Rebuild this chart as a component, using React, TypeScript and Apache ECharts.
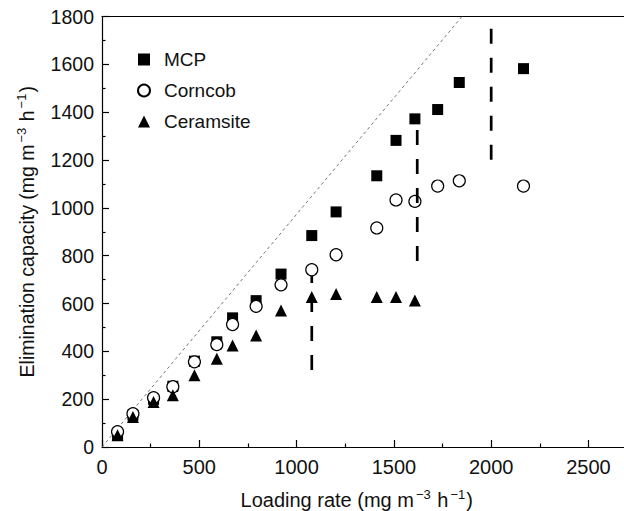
import React, { useEffect, useRef } from "react";
import * as echarts from "echarts";

const loading = [80, 159, 265, 364, 475, 590, 671, 792, 920, 1078, 1203, 1412, 1511, 1608, 1725, 1836, 2166];
const mcp = [52, 133, 199, 254, 359, 440, 540, 612, 723, 884, 983, 1134, 1282, 1372, 1411, 1524, 1582];
const corncob = [64, 139, 206, 252, 356, 428, 512, 588, 678, 741, 804, 916, 1033, 1027, 1091, 1113, 1091];
const ceramsiteLoading = [80, 159, 265, 364, 475, 590, 671, 792, 920, 1078, 1203, 1412, 1511, 1608];
const ceramsite = [49, 125, 188, 216, 300, 369, 424, 466, 571, 627, 640, 627, 627, 613];

const breakX = [1078, 1620, 2000];
const breakFrom = [322, 1325, 1749];
const breakTo = [715, 776, 1195];

const diagonalX = [0, 1850];
const diagonalY = [0, 1800];

const xTicks = [0, 500, 1000, 1500, 2000, 2500];

const FONT = "'Liberation Sans', Arial, Helvetica, sans-serif";

export default function App() {
  const ref = useRef<HTMLDivElement>(null);
  useEffect(() => {
    if (!ref.current) return;
    const chart = echarts.init(ref.current, null, { renderer: "svg" });
    const pair = (xs: number[], ys: number[]) => xs.map((x, i) => [x, ys[i]]);
    const richName = {
      sup: { fontSize: 13, verticalAlign: "top", lineHeight: 12, fontFamily: FONT, color: "#111", padding: [0, 1, 0, 2] },
    };
    const breakSeries = breakX.map((x, i) => ({
      type: "line",
      data: [
        [x, breakFrom[i]],
        [x, breakTo[i]],
      ],
      symbol: "none",
      silent: true,
      z: 5,
      lineStyle: { color: "#000", width: 2.7, type: [15, 14], cap: "butt" },
    }));
    const option: any = {
      animation: false,
      backgroundColor: "#fff",
      grid: { left: 102, top: 16.5, bottom: 64, right: -3.4, containLabel: false, outerBoundsMode: "none" },
      legend: {
        orient: "vertical",
        left: 132,
        top: 45,
        itemWidth: 12,
        itemHeight: 12,
        itemGap: 12,
        textStyle: { fontSize: 19, fontFamily: FONT, color: "#111", padding: [0, 0, 0, 9] },
        data: ["MCP", "Corncob", "Ceramsite"],
      },
      xAxis: [
        {
          type: "value",
          min: 0,
          max: 2700,
          interval: 500,
          position: "bottom",
          name: "Loading rate (mg m{sup|−3} h{sup|−1})",
          nameLocation: "middle",
          nameGap: 41,
          nameTextStyle: {
            fontSize: 20,
            fontFamily: FONT,
            color: "#111",
            lineHeight: 24,
            padding: [0, 16, 0, 0],
            rich: richName,
          },
          axisLine: { onZero: false, lineStyle: { color: "#000", width: 1.2 } },
          axisTick: { inside: true, length: 7, lineStyle: { color: "#000", width: 1.2 } },
          minorTick: { show: true, splitNumber: 2, length: 3.5, lineStyle: { color: "#000", width: 1.2 } },
          splitLine: { show: false },
          axisLabel: {
            fontSize: 20,
            fontFamily: FONT,
            color: "#111",
            margin: 10,
            customValues: xTicks,
            formatter: (v: number) => String(v),
          },
        },
        {
          type: "value",
          min: 0,
          max: 2700,
          position: "top",
          axisLine: { show: true, onZero: false, lineStyle: { color: "#000", width: 1.2 } },
          axisTick: { show: false },
          axisLabel: { show: false },
          splitLine: { show: false },
        },
      ],
      yAxis: [
        {
          type: "value",
          min: 0,
          max: 1800,
          interval: 200,
          name: "Elimination capacity (mg m{sup|−3} h{sup|−1})",
          nameLocation: "middle",
          nameRotate: 90,
          nameGap: 63,
          nameTextStyle: { fontSize: 19.5, fontFamily: FONT, color: "#111", lineHeight: 24, rich: richName },
          axisLine: { show: true, onZero: false, lineStyle: { color: "#000", width: 1.2 } },
          axisTick: { inside: true, length: 7, lineStyle: { color: "#000", width: 1.2 } },
          minorTick: { show: true, splitNumber: 2, length: 3.5, lineStyle: { color: "#000", width: 1.2 } },
          splitLine: { show: false },
          axisLabel: {
            fontSize: 19.5,
            fontFamily: FONT,
            color: "#111",
            margin: 8,
            formatter: (v: number) => String(v),
          },
        },
      ],
      series: [
        {
          type: "line",
          data: pair(diagonalX, diagonalY),
          symbol: "none",
          silent: true,
          z: 1,
          lineStyle: { color: "#666", width: 0.9, type: [3, 3] },
        },
        {
          name: "MCP",
          type: "scatter",
          symbol: "rect",
          symbolSize: 11,
          data: pair(loading, mcp),
          itemStyle: { color: "#000", opacity: 1 },
          z: 2,
        },
        {
          name: "Corncob",
          type: "scatter",
          symbol: "circle",
          symbolSize: 12,
          data: pair(loading, corncob),
          itemStyle: { color: "#fff", borderColor: "#000", borderWidth: 1.2, opacity: 1 },
          z: 3,
        },
        {
          name: "Ceramsite",
          type: "scatter",
          symbol: "triangle",
          symbolSize: 12,
          data: pair(ceramsiteLoading, ceramsite),
          itemStyle: { color: "#000", opacity: 1 },
          z: 4,
        },
        ...breakSeries,
      ],
    };
    chart.setOption(option);
    return () => chart.dispose();
  }, []);
  return (
    <div
      ref={ref}
      style={{ position: "absolute", left: 0, top: 0, width: 624, height: 511, overflow: "hidden" }}
    />
  );
}
